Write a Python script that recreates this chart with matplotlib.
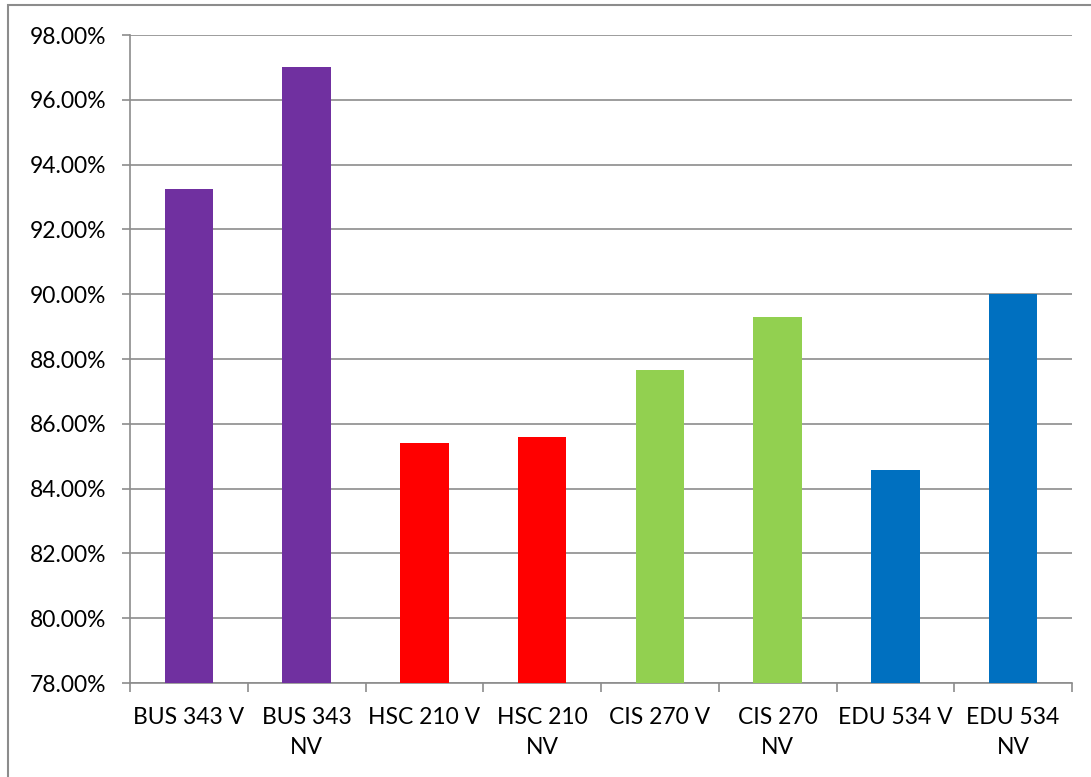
import matplotlib
matplotlib.use('Agg')
import matplotlib.pyplot as plt
from matplotlib.ticker import PercentFormatter, MultipleLocator
from matplotlib.patches import Rectangle

# コース別の割合
categories = ['BUS 343 V', 'BUS 343\nNV', 'HSC 210 V', 'HSC 210\nNV',
              'CIS 270 V', 'CIS 270\nNV', 'EDU 534 V', 'EDU 534\nNV']
values = [93.25, 97.00, 85.41, 85.59, 87.66, 89.30, 84.57, 90.00]
colors = ['#7030A0', '#7030A0', '#FF0000', '#FF0000',
          '#92D050', '#92D050', '#0070C0', '#0070C0']

plt.rcParams['font.family'] = ['Lato', 'DejaVu Sans']

fig = plt.figure(figsize=(10.91, 7.77), dpi=100)
ax = fig.add_axes([130/1091, 1 - 683/777, 942/1091, 648/777])

x = range(len(categories))
ax.bar(x, values, width=0.41, color=colors, zorder=3)

ax.set_ylim(78, 98)
ax.set_xlim(-0.5, len(categories) - 0.5)
ax.yaxis.set_major_locator(MultipleLocator(2))
ax.yaxis.set_major_formatter(PercentFormatter(decimals=2))
ax.grid(axis='y', color='#8c8c8c', linewidth=1.2, zorder=0)

# カテゴリ境界の目盛り
ax.set_xticks([i - 0.5 for i in range(len(categories) + 1)])
ax.set_xticklabels([])
ax.set_xticks(list(x), minor=True)
ax.set_xticklabels(categories, minor=True, fontsize=16.5, linespacing=1.55)
ax.tick_params(axis='x', which='major', length=6.5, width=1.2, color='#8c8c8c', direction='out')
ax.tick_params(axis='x', which='minor', length=0, pad=17)
ax.tick_params(axis='y', length=6, width=1.2, color='#8c8c8c', labelsize=16.5, pad=11)

for side in ['top', 'right']:
    ax.spines[side].set_visible(False)
for side in ['left', 'bottom']:
    ax.spines[side].set_color('#8c8c8c')
    ax.spines[side].set_linewidth(1.2)

# 外枠（右下ははみ出す）
fig.patches.append(Rectangle((8/1091, -0.05), 1.1, 1.05 - 5/777,
                             transform=fig.transFigure, fill=False,
                             edgecolor='#8c8c8c', linewidth=1.5))

fig.savefig('out.png', dpi=100)
